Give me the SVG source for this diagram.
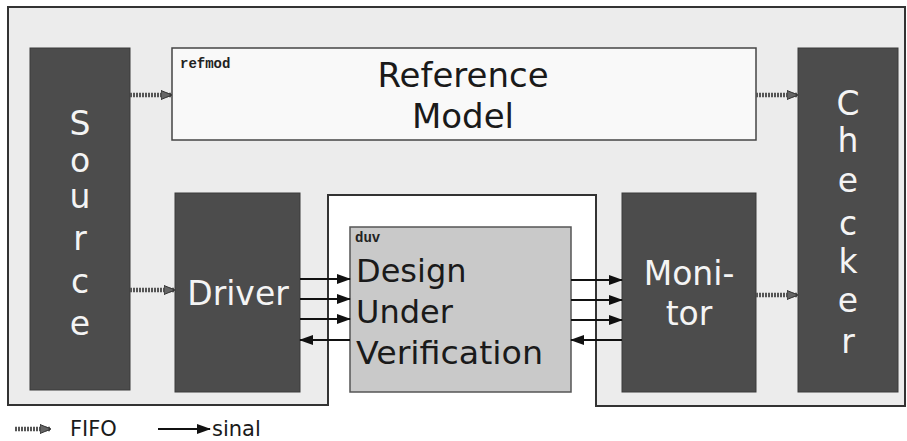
<svg xmlns="http://www.w3.org/2000/svg" width="907" height="441" viewBox="0 0 907 441">
<defs>
<style>
.blk{fill:#4c4c4c;stroke:#3a3a3a;stroke-width:1}
.wt{fill:#f4f4f4;font-family:"DejaVu Sans",Verdana,sans-serif;font-size:33px;text-anchor:middle}
.bt{fill:#1a1a1a;font-family:"DejaVu Sans",Verdana,sans-serif}
.mono{fill:#222;font-family:"Liberation Mono","DejaVu Sans Mono",monospace;font-weight:bold;font-size:14px}
.fifo{stroke:#555;stroke-width:4.5;stroke-dasharray:2 1;fill:none}
.sig{stroke:#111;stroke-width:2;fill:none}
</style>
<marker id="fh" markerWidth="12" markerHeight="12" refX="10" refY="6" orient="auto" markerUnits="userSpaceOnUse">
<path d="M0,1.5 L11,6 L0,10.5 Z" fill="#666" stroke="#333" stroke-width="1"/>
</marker>
<marker id="sh" markerWidth="14" markerHeight="12" refX="13" refY="6" orient="auto" markerUnits="userSpaceOnUse">
<path d="M0,1 L14,6 L0,11 Z" fill="#111"/>
</marker>
</defs>
<rect width="907" height="441" fill="#fff"/>
<g id="testbench">
<path d="M8,7 H905 V406 H596 V195 H328 V405 H8 Z" fill="#ececec" stroke="#333" stroke-width="2"/>
</g>
<g id="source">
<rect class="blk" x="30" y="48" width="100" height="342"/>
<text class="wt" x="80" y="135">S</text>
<text class="wt" x="80" y="172">o</text>
<text class="wt" x="80" y="208">u</text>
<text class="wt" x="80" y="250">r</text>
<text class="wt" x="80" y="293">c</text>
<text class="wt" x="80" y="335">e</text>
</g>
<g id="refmod">
<rect x="172" y="48" width="584" height="92" fill="#f9f9f9" stroke="#444" stroke-width="1.5"/>
<text class="mono" x="180" y="68">refmod</text>
<text class="bt" x="463" y="87" font-size="34" text-anchor="middle">Reference</text>
<text class="bt" x="463" y="128" font-size="34" text-anchor="middle">Model</text>
</g>
<g id="checker">
<rect class="blk" x="798" y="48" width="100" height="344"/>
<text class="wt" x="848" y="115">C</text>
<text class="wt" x="848" y="152">h</text>
<text class="wt" x="848" y="192">e</text>
<text class="wt" x="848" y="235">c</text>
<text class="wt" x="848" y="273">k</text>
<text class="wt" x="848" y="312">e</text>
<text class="wt" x="848" y="353">r</text>
</g>
<g id="driver">
<rect class="blk" x="175" y="193" width="125" height="199"/>
<text class="wt" x="238" y="305" font-size="29">Driver</text>
</g>
<g id="duv">
<rect x="350" y="227" width="221" height="165" fill="#c9c9c9" stroke="#555" stroke-width="1.5"/>
<text class="mono" x="355" y="242">duv</text>
<text class="bt" x="356" y="282" font-size="32">Design</text>
<text class="bt" x="356" y="323" font-size="32">Under</text>
<text class="bt" x="356" y="364" font-size="32" textLength="187" lengthAdjust="spacingAndGlyphs">Verification</text>
</g>
<g id="monitor">
<rect class="blk" x="622" y="193" width="134" height="199"/>
<text class="wt" x="689" y="285" font-size="29">Moni-</text>
<text class="wt" x="689" y="325" font-size="29">tor</text>
</g>
<g id="connectors">
<line class="fifo" x1="130" y1="95" x2="171" y2="95" marker-end="url(#fh)"/>
<line class="fifo" x1="756" y1="95" x2="797" y2="95" marker-end="url(#fh)"/>
<line class="fifo" x1="130" y1="290" x2="174" y2="290" marker-end="url(#fh)"/>
<line class="fifo" x1="756" y1="295" x2="797" y2="295" marker-end="url(#fh)"/>
<line class="sig" x1="300" y1="279" x2="350" y2="279" marker-end="url(#sh)"/>
<line class="sig" x1="300" y1="299" x2="350" y2="299" marker-end="url(#sh)"/>
<line class="sig" x1="300" y1="319" x2="350" y2="319" marker-end="url(#sh)"/>
<line class="sig" x1="350" y1="340" x2="300" y2="340" marker-end="url(#sh)"/>
<line class="sig" x1="571" y1="280" x2="622" y2="280" marker-end="url(#sh)"/>
<line class="sig" x1="571" y1="300" x2="622" y2="300" marker-end="url(#sh)"/>
<line class="sig" x1="571" y1="320" x2="622" y2="320" marker-end="url(#sh)"/>
<line class="sig" x1="622" y1="340" x2="571" y2="340" marker-end="url(#sh)"/>
</g>
<g id="legend">
<line class="fifo" x1="15" y1="429" x2="50" y2="429" marker-end="url(#fh)"/>
<text class="bt" x="70" y="436" font-size="21" fill="#222">FIFO</text>
<line class="sig" x1="158" y1="429" x2="210" y2="429" marker-end="url(#sh)"/>
<text class="bt" x="212" y="436" font-size="21" fill="#222">sinal</text>
</g>
</svg>
